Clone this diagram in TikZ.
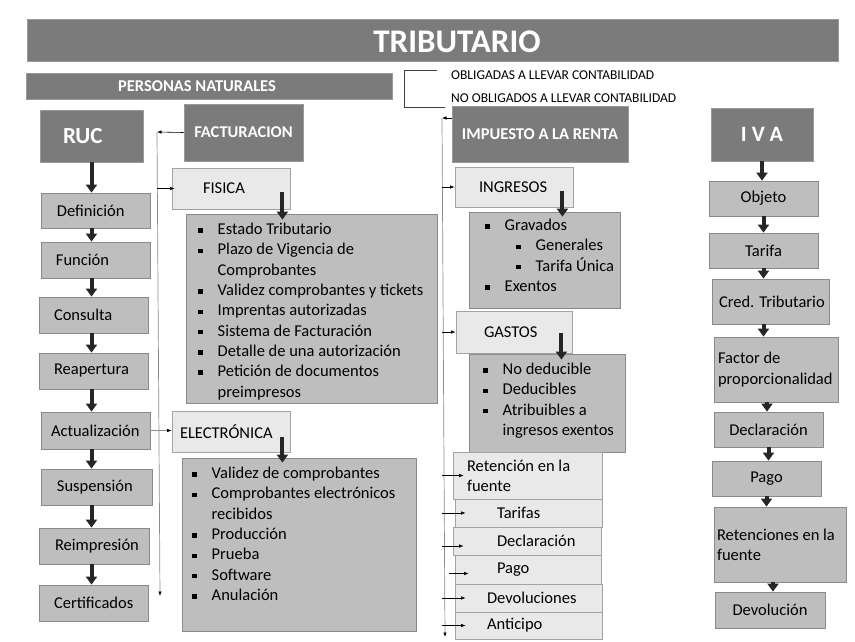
\documentclass[tikz,border=0pt]{standalone}
\usepackage{fontspec}
\setmainfont{Carlito}
\usetikzlibrary{arrows.meta}

\definecolor{darkfill}{HTML}{7B7B7B}
\definecolor{darkedge}{HTML}{9A9A9A}
\definecolor{midfill}{HTML}{BEBEBE}
\definecolor{midedge}{HTML}{8A8A8A}
\definecolor{lightfill}{HTML}{E9E9E9}
\definecolor{lightedge}{HTML}{A3A3A3}
\definecolor{arrowdark}{HTML}{262626}
\definecolor{guidegray}{HTML}{8C8C8C}

\newcommand{\bodyfont}{\fontsize{16.5}{20.3}\selectfont}
\newcommand{\sqitem}{\makebox[19.5pt][l]{\rule[1.8pt]{4.5pt}{4.5pt}}}
\newcommand{\subsqitem}{\hspace*{31pt}\sqitem}
\newcommand{\sqcont}{\hspace*{19.5pt}}

\begin{document}
\begin{tikzpicture}[x=1pt, y=-1pt,
    every node/.style={font=\bodyfont, inner sep=0pt},
    darkbox/.style={draw=darkedge, fill=darkfill, line width=0.8pt},
    heading/.style={text=white, font=\bodyfont\bfseries},
    midbox/.style={draw=midedge, fill=midfill, line width=0.8pt},
    lightbox/.style={draw=lightedge, fill=lightfill, line width=0.8pt},
    padded/.style={align=flush left, inner xsep=0pt, text width=#1},
    listtext/.style={anchor=north west, align=left},
    bigarrow/.style={-{Triangle[width=11pt,length=8pt]}, line width=4pt, arrowdark},
    thinarrow/.style={-{Latex[length=4.5pt,width=3.5pt]}, line width=0.6pt},
    guide/.style={-{Latex[length=4.5pt,width=3.5pt,black]}, line width=0.7pt, guidegray}
    ]
\path[fill=white] (0,0) rectangle (855,641);
\useasboundingbox (0,0) rectangle (855,641);

% Title and headers
\node[darkbox, minimum width=811pt, minimum height=42pt] (trib bar) at (432.5,40) {};
\node[heading, font=\fontsize{33}{38}\selectfont\bfseries] (trib) at (457,42) {TRIBUTARIO};
\node[darkbox, minimum width=366pt, minimum height=26pt] (pn bar) at (209,86) {};
\node[heading] (pn) at (197,86.5) {PERSONAS NATURALES};

\node[anchor=west, font=\fontsize{13.5}{16}\selectfont] (obl) at (451,75) {OBLIGADAS A LLEVAR CONTABILIDAD};
\node[anchor=west, font=\fontsize{13.5}{16}\selectfont] (no obl) at (451,98) {NO OBLIGADOS A LLEVAR CONTABILIDAD};
\draw[line width=0.6pt, black!75] (437,70) -- (404,70) -- (404,107) -- (445,107);

% RUC column
\node[darkbox, heading, padded=103pt, minimum height=52pt, font=\fontsize{23}{28}\selectfont\bfseries] (ruc) at (91.5,136) {\hspace*{23pt}RUC};
\node[midbox, padded=109pt, minimum height=35pt] (def) at (95.5,210.5) {\hspace*{16pt}Definición};
\node[midbox, padded=109pt, minimum height=36pt] (fun) at (95.5,260) {\hspace*{15pt}Función};
\node[midbox, padded=109pt, minimum height=36pt] (con) at (93.5,315) {\hspace*{15pt}Consulta};
\node[midbox, padded=109pt, minimum height=36pt] (reap) at (93.5,371) {\hspace*{15pt}Reapertura};
\node[midbox, padded=109pt, minimum height=37pt] (act) at (95.5,430.5) {\hspace*{10pt}Actualización};
\node[midbox, padded=111pt, minimum height=36pt] (susp) at (96.5,487) {\hspace*{16pt}Suspensión};
\node[midbox, padded=110pt, minimum height=36pt] (reimp) at (94,546) {\hspace*{16pt}Reimpresión};
\node[midbox, padded=109pt, minimum height=36pt] (cert) at (93.5,603) {\hspace*{15pt}Certificados};

% Facturacion column
\node[darkbox, heading, minimum width=119pt, minimum height=57pt] (fac) at (243.5,132.5) {FACTURACION};
\node[lightbox, padded=118pt, minimum height=41pt] (fis) at (231,188.5) {\hspace*{31pt}FISICA};
\node[midbox, minimum width=251pt, minimum height=189pt] (fis list) at (311.5,308.5) {};
\node[listtext] (fis items) at (198,223) {\sqitem Estado Tributario\\ \sqitem Plazo de Vigencia de\\ \sqcont Comprobantes\\ \sqitem Validez comprobantes y tickets\\ \sqitem Imprentas autorizadas\\ \sqitem Sistema de Facturación\\ \sqitem Detalle de una autorización\\ \sqitem Petición de documentos\\ \sqcont preimpresos};
\node[lightbox, padded=118pt, minimum height=41pt] (ele) at (231,431.5) {\hspace*{8pt}ELECTRÓNICA};
\node[midbox, minimum width=234pt, minimum height=173pt] (ele list) at (299,544.5) {};
\node[listtext] (ele items) at (192,467) {\sqitem Validez de comprobantes\\ \sqitem Comprobantes electrónicos\\ \sqcont recibidos\\ \sqitem Producción\\ \sqitem Prueba\\ \sqitem Software\\ \sqitem Anulación};

% Impuesto a la renta column
\node[darkbox, heading, minimum width=176pt, minimum height=56pt] (imp) at (540,134) {IMPUESTO A LA RENTA};
\node[lightbox, padded=118pt, minimum height=40pt] (ing) at (514,187) {\hspace*{24pt}INGRESOS};
\node[midbox, minimum width=151pt, minimum height=96pt] (ing list) at (544.5,260) {};
\node[listtext] (ing items) at (485,219) {\sqitem Gravados\\ \subsqitem Generales\\ \subsqitem Tarifa Única\\ \sqitem Exentos};
\node[lightbox, padded=116pt, minimum height=42pt] (gas) at (514,332) {\hspace*{28pt}GASTOS};
\node[midbox, minimum width=156pt, minimum height=98pt] (gas list) at (547,403) {};
\node[listtext] (gas items) at (483,363) {\sqitem No deducible\\ \sqitem Deducibles\\ \sqitem Atribuibles a\\ \sqcont ingresos exentos};

\node[lightbox, padded=149pt, minimum height=47pt] (ret) at (527.5,475.5) {\hspace*{14pt}Retención en la\\ \hspace*{14pt}fuente};
\node[lightbox, padded=147pt, minimum height=28pt] (tar) at (528.5,513) {\hspace*{42pt}Tarifas};
\node[lightbox, padded=148pt, minimum height=28pt] (rdec) at (527,541) {\hspace*{44pt}Declaración};
\node[lightbox, padded=146pt, minimum height=29pt] (rpago) at (528,569.5) {\hspace*{42pt}Pago};
\node[lightbox, padded=147pt, minimum height=28pt] (rdev) at (528.5,598) {\hspace*{32pt}Devoluciones};
\node[lightbox, padded=147pt, minimum height=27pt] (anti) at (528.5,625.5) {\hspace*{32pt}Anticipo};

% IVA column
\node[darkbox, heading, minimum width=102pt, minimum height=53pt, font=\fontsize{22}{26}\selectfont\bfseries] (iva) at (762,134.5) {I V A};
\node[midbox, minimum width=109pt, minimum height=35pt] (obj) at (763.5,198.5) {Objeto};
\node[midbox, minimum width=109pt, minimum height=35pt] (tarifa) at (763.5,250.5) {Tarifa};
\node[midbox, padded=117pt, minimum height=45pt] (cred) at (770.5,301.5) {\hspace*{7pt}Cred. Tributario};
\node[midbox, padded=124pt, minimum height=65pt] (factor) at (776,369.5) {\hspace*{4pt}Factor de\\ \hspace*{4pt}proporcionalidad};
\node[midbox, minimum width=109pt, minimum height=35pt] (ivadec) at (768.5,429.5) {Declaración};
\node[midbox, minimum width=109pt, minimum height=35pt] (ivapago) at (766.5,478.5) {Pago};
\node[midbox, padded=132pt, minimum height=75pt] (ivaret) at (780,544.5) {\hspace*{3pt}Retenciones en la\\ \hspace*{3pt}fuente};
\node[midbox, minimum width=110pt, minimum height=36pt] (ivadev) at (770,610) {Devolución};

% Thick arrows
\draw[bigarrow] (ruc.south) -- (ruc.south |- def.north);
\draw[bigarrow] (ruc.south |- def.south) -- (ruc.south |- fun.north);
\draw[bigarrow] (ruc.south |- fun.south) -- (ruc.south |- con.north);
\draw[bigarrow] (ruc.south |- con.south) -- (ruc.south |- reap.north);
\draw[bigarrow] (ruc.south |- reap.south) -- (ruc.south |- act.north);
\draw[bigarrow] (ruc.south |- act.south) -- (ruc.south |- susp.north);
\draw[bigarrow] (ruc.south |- susp.south) -- (ruc.south |- reimp.north);
\draw[bigarrow] (ruc.south |- reimp.south) -- (ruc.south |- cert.north);

\draw[bigarrow] ([xshift=-8pt,yshift=-3pt]fis.east) -- ([xshift=-8pt,yshift=-6pt]fis.east |- fis list.north);
\draw[bigarrow] ([xshift=-8pt,yshift=-5pt]ele.east) -- ([xshift=-8pt,yshift=-5pt]ele.east |- ele list.north);
\draw[bigarrow] ([xshift=-11pt,yshift=-4pt]ing.east) -- ([xshift=-11pt,yshift=-5pt]ing.east |- ing list.north);
\draw[bigarrow] ([xshift=-11pt,yshift=-1pt]gas.east) -- ([xshift=-11pt,yshift=-6pt]gas.east |- gas list.north);

\draw[bigarrow] (iva.south) -- (iva.south |- obj.north);
\draw[bigarrow] (obj.south) -- (obj.south |- tarifa.north);
\draw[bigarrow] (tarifa.south) -- (tarifa.south |- cred.north);
\draw[bigarrow] ([xshift=-7pt]cred.south) -- ([xshift=-7pt]cred.south |- factor.north);
\draw[bigarrow] ([xshift=-9pt]factor.south) -- ([xshift=-9pt]factor.south |- ivadec.north);
\draw[bigarrow] (ivadec.south) -- (ivadec.south |- ivapago.north);
\draw[bigarrow] (ivapago.south) -- (ivapago.south |- ivaret.north);
\draw[bigarrow] ([xshift=-7pt]ivaret.south) -- ([xshift=-7pt]ivaret.south |- ivadev.north);

% Thin connectors
\coordinate (fac top) at (157,132);
\coordinate (fac end) at (160,596);
\draw[thinarrow] (fac.west) -- (fac top);
\draw[guide] (fac top) -- (fac end);
\draw[thinarrow] (fis.west -| fac top) -- ([xshift=3pt]fis.west);
\draw[guide] (act.east) -- (act.east -| ele.west);

\coordinate (renta top) at (442,118);
\coordinate (renta end) at (445,637);
\draw[thinarrow] ([yshift=16pt]imp.west) -- (renta top);
\draw[guide] (renta top) -- (renta end);
\draw[thinarrow] (ing.west -| renta top) -- (ing.west);
\draw[thinarrow] (gas.west -| renta top) -- (gas.west);
\draw[thinarrow] (ret.west -| renta top) -- ([xshift=11pt]ret.west);
\draw[thinarrow] (tar.west -| renta top) -- ([xshift=11pt]tar.west);
\draw[thinarrow] ([yshift=-5pt]rdec.west -| renta top) -- ([xshift=11pt,yshift=-5pt]rdec.west);
\draw[thinarrow] ([xshift=7pt,yshift=-4pt]rpago.west -| renta top) -- ([xshift=14pt,yshift=-4pt]rpago.west);
\draw[thinarrow] (rdev.west -| renta top) -- ([xshift=11pt]rdev.west);
\draw[thinarrow] (anti.west -| renta top) -- ([xshift=11pt]anti.west);

\end{tikzpicture}
\end{document}
